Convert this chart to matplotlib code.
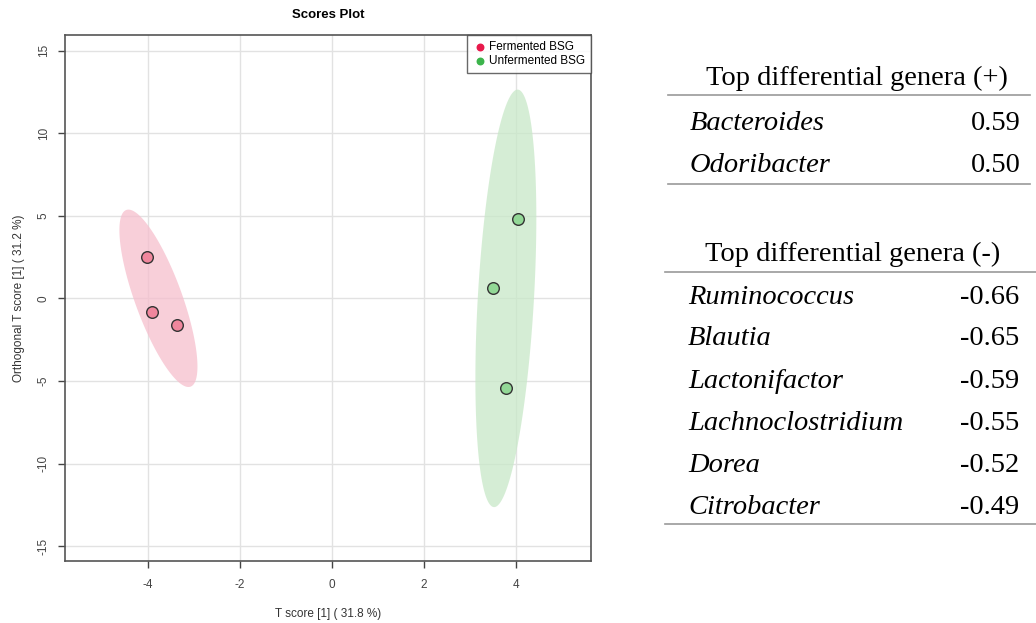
import numpy as np
import matplotlib
matplotlib.use("Agg")
import matplotlib.pyplot as plt

plt.rcParams["font.family"] = ["Liberation Sans", "DejaVu Sans"]
plt.rcParams["axes.unicode_minus"] = False

# Datos de los puntos (T score, Orthogonal T score)
fermented_t = [-4.02, -3.90, -3.37]
fermented_o = [2.50, -0.85, -1.63]
unfermented_t = [4.04, 3.50, 3.78]
unfermented_o = [4.82, 0.64, -5.45]

groups = ["Fermented BSG", "Unfermented BSG"]

x_ticks = [-4, -2, 0, 2, 4]
y_ticks = [-15, -10, -5, 0, 5, 10, 15]

# Tablas de la derecha
genera_pos = ["Bacteroides", "Odoribacter"]
values_pos = [0.59, 0.50]
genera_neg = ["Ruminococcus", "Blautia", "Lactonifactor",
              "Lachnoclostridium", "Dorea", "Citrobacter"]
values_neg = [-0.66, -0.65, -0.59, -0.55, -0.52, -0.49]

W, H = 1036, 623


def ellipse_points(x, y, level_t=np.sqrt(-2 * np.log(0.05)), n=200):
    # elipse de confianza 95% a partir de la covarianza
    data = np.vstack([x, y])
    mu = data.mean(axis=1)
    cov = np.cov(data)
    vals, vecs = np.linalg.eigh(cov)
    ang = np.linspace(0, 2 * np.pi, n)
    circ = np.vstack([np.cos(ang), np.sin(ang)])
    pts = vecs @ (np.sqrt(vals)[:, None] * circ) * level_t
    return pts[0] + mu[0], pts[1] + mu[1]


fig = plt.figure(figsize=(W / 100, H / 100), dpi=100)
ax = fig.add_axes([65 / W, 1 - 561 / H, (591 - 65) / W, (561 - 35) / H])

ax.set_xlim(-5.79, 5.62)
ax.set_ylim(-15.9, 15.95)
ax.set_xticks(x_ticks)
ax.set_yticks(y_ticks)
ax.grid(color="#e2e2e2", linewidth=1)
ax.set_axisbelow(True)

ex, ey = ellipse_points(fermented_t, fermented_o)
ax.fill(ex, ey, color="#f6bfcd", alpha=0.75, linewidth=0, zorder=2)
ex, ey = ellipse_points(unfermented_t, unfermented_o)
ax.fill(ex, ey, color="#c8e8c8", alpha=0.75, linewidth=0, zorder=2)

ax.scatter(fermented_t, fermented_o, s=70, color="#f0869d",
           edgecolors="#333333", linewidths=1, zorder=3)
ax.scatter(unfermented_t, unfermented_o, s=70, color="#92d896",
           edgecolors="#333333", linewidths=1, zorder=3)

# leyenda
ax.scatter([], [], s=22, color="#e8194b", label=groups[0])
ax.scatter([], [], s=22, color="#3cb44b", label=groups[1])
leg = ax.legend(loc="upper right", fontsize=8.5, frameon=True, fancybox=False,
                borderaxespad=0, handletextpad=0.2, borderpad=0.5,
                labelspacing=0.2, handlelength=1.2)
leg.get_frame().set_edgecolor("#444444")
leg.get_frame().set_linewidth(1)

for s in ax.spines.values():
    s.set_color("#555555")
    s.set_linewidth(1.2)
ax.tick_params(colors="#444444", labelsize=8.5, length=5, width=1)
ax.tick_params(axis="x", pad=8)
ax.tick_params(axis="y", pad=6)
for lab in ax.get_yticklabels():
    lab.set_rotation(90)
    lab.set_va("center")

ax.set_title("Scores Plot", fontsize=9.5, fontweight="bold", pad=12)
ax.set_xlabel("T score [1] ( 31.8 %)", fontsize=8.5, color="#333333", labelpad=12)
ax.set_ylabel("Orthogonal T score [1] ( 31.2 %)", fontsize=8.5, color="#333333", labelpad=9)


# tablas
def px(x, y):
    return x / W, 1 - y / H


def hline(y, x0, x1):
    fig.add_artist(plt.Line2D([x0 / W, x1 / W], [1 - y / H, 1 - y / H],
                              color="#999999", linewidth=1.2))


serif = "Liberation Serif"
fs = 20.5

fig.text(*px(857, 78), "Top differential genera (+)", family=serif, fontsize=fs,
         ha="center", va="center")
hline(94.5, 668, 1030)
rows_y = [124, 166]
for name, val, yy in zip(genera_pos, values_pos, rows_y):
    fig.text(*px(690, yy), name, family=serif, style="italic", fontsize=fs,
             ha="left", va="center")
    fig.text(*px(1021, yy), "%.2f" % val, family=serif, fontsize=fs,
             ha="right", va="center")
hline(183.5, 668, 1030)

fig.text(*px(853, 254), "Top differential genera (-)", family=serif, fontsize=fs,
         ha="center", va="center")
hline(272, 665, 1036)
rows_y = [298, 339, 381, 423, 465, 507]
for name, val, yy in zip(genera_neg, values_neg, rows_y):
    fig.text(*px(688, yy), name, family=serif, style="italic", fontsize=fs,
             ha="left", va="center")
    fig.text(*px(1019, yy), "%.2f" % val, family=serif, fontsize=fs,
             ha="right", va="center")
hline(524, 665, 1036)

fig.savefig("out.png", dpi=100)
